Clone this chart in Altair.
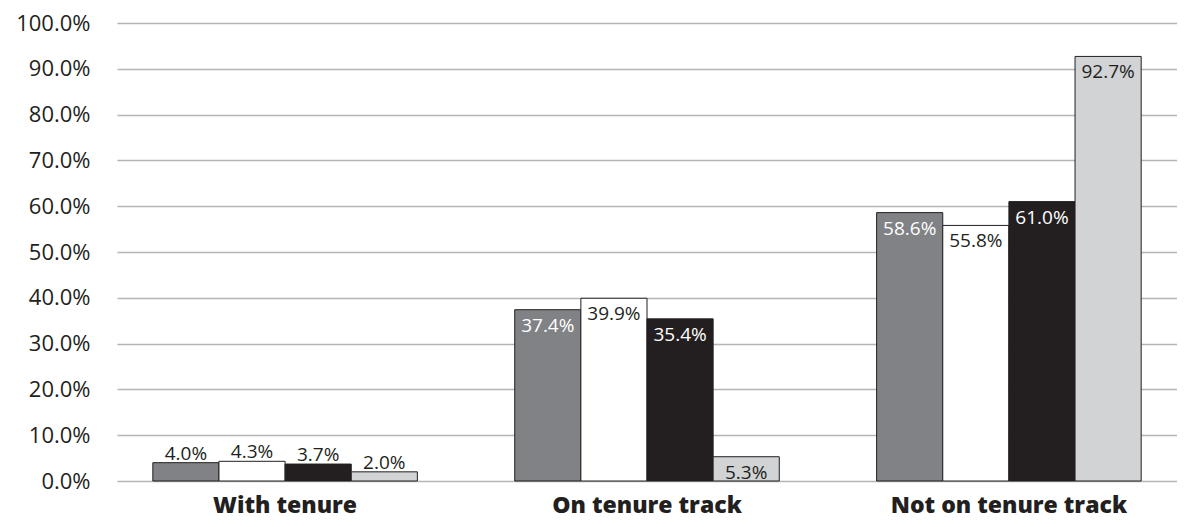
import altair as alt
import pandas as pd

categories = ["With tenure", "On tenure track", "Not on tenure track"]
series = ["Group 1", "Group 2", "Group 3", "Group 4"]
group1 = [4.0, 37.4, 58.6]
group2 = [4.3, 39.9, 55.8]
group3 = [3.7, 35.4, 61.0]
group4 = [2.0, 5.3, 92.7]

fills = ["#808285", "#ffffff", "#231f20", "#d1d3d4"]
ink = "#231f20"

rows = []
for s, vals in zip(series, [group1, group2, group3, group4]):
    for c, v in zip(categories, vals):
        rows.append({"category": c, "series": s, "value": v})
df = pd.DataFrame(rows)

FONT = "Open Sans"

x = alt.X("category:N", sort=categories, title=None,
          scale=alt.Scale(paddingInner=0.269, paddingOuter=0.099),
          axis=alt.Axis(labelAngle=0, labelFontSize=23, labelFontWeight=800,
                        labelFont=FONT, labelColor=ink, labelBaseline="alphabetic",
                        labelPadding=31, labelLimit=0, domain=False, ticks=False,
                        grid=False))
xo = alt.XOffset("series:N", sort=series, scale=alt.Scale(paddingInner=0, paddingOuter=0))
y = alt.Y("value:Q", title=None,
          scale=alt.Scale(domain=[0, 100], nice=False),
          axis=alt.Axis(values=list(range(0, 101, 10)),
                        labelExpr="format(datum.value, '.1f') + '%'",
                        labelFontSize=22, labelFont=FONT, labelColor=ink,
                        labelPadding=27, labelLimit=0, domain=False, ticks=False,
                        grid=True, gridColor="#b5b5b5", gridWidth=1.4))

base = alt.Chart(df)

bars = base.mark_bar(stroke=ink, strokeWidth=1).encode(
    x=x, xOffset=xo, y=y,
    fill=alt.Fill("series:N", sort=series,
                  scale=alt.Scale(domain=series, range=fills), legend=None),
)

inside = base.transform_filter("datum.value >= 5").transform_calculate(
    tc="(datum.series == 'Group 1' || datum.series == 'Group 3') ? '#ffffff' : '#231f20'",
    lbl="format(datum.value, '.1f') + '%'",
).mark_text(font=FONT, fontSize=19, baseline="alphabetic", dy=22).encode(
    x=x, xOffset=xo, y=y, text="lbl:N", color=alt.Color("tc:N", scale=None),
)

above = base.transform_filter("datum.value < 5").transform_calculate(
    lbl="format(datum.value, '.1f') + '%'",
).mark_text(font=FONT, fontSize=19, baseline="alphabetic", dy=-3, color=ink).encode(
    x=x, xOffset=xo, y=y, text="lbl:N",
)

chart = alt.layer(bars, inside, above).properties(
    width=1060, height=458,
    autosize=alt.AutoSizeParams(type="none"),
    padding={"left": 109, "top": 15, "right": 0, "bottom": 38},
    background="#ffffff",
).configure_view(stroke="transparent", strokeWidth=0)

chart.save("out.html", embed_options={"renderer": "svg", "actions": False})
